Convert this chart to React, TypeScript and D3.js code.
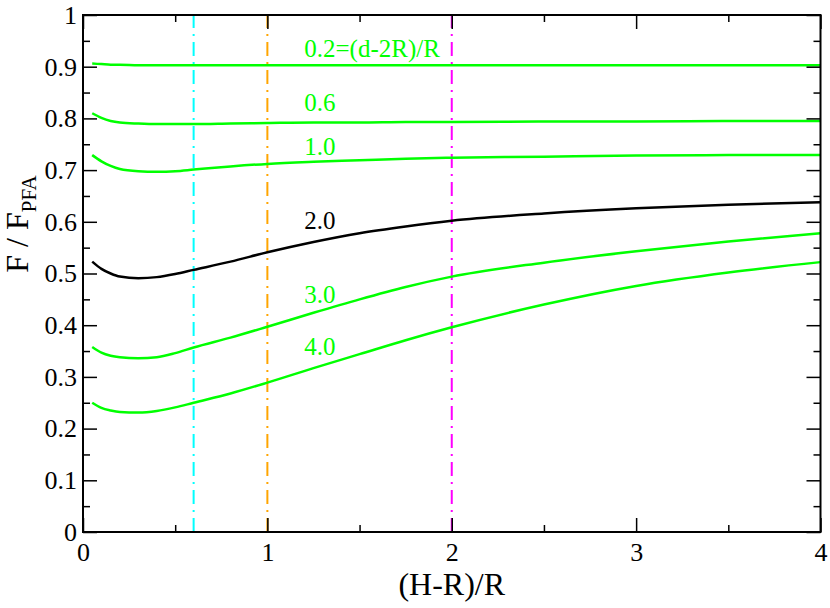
import React, { useEffect, useRef } from 'react';
import * as d3 from 'd3';

// x positions shared by every curve
const xValues = [0.05, 0.1, 0.15, 0.2, 0.3, 0.4, 0.5, 0.6, 0.8, 1.0, 1.25, 1.5, 1.75, 2.0, 2.5, 3.0, 3.5, 4.0];

const curve02 = [0.906, 0.905, 0.904, 0.904, 0.903, 0.903, 0.903, 0.903, 0.903, 0.903, 0.903, 0.903, 0.903, 0.903, 0.903, 0.903, 0.903, 0.903];
const curve06 = [0.810, 0.801, 0.795, 0.792, 0.790, 0.789, 0.789, 0.789, 0.790, 0.791, 0.792, 0.792, 0.793, 0.793, 0.794, 0.794, 0.795, 0.795];
const curve10 = [0.729, 0.717, 0.708, 0.702, 0.698, 0.697, 0.698, 0.701, 0.707, 0.712, 0.716, 0.719, 0.722, 0.724, 0.726, 0.728, 0.729, 0.729];
const curve20 = [0.523, 0.509, 0.500, 0.494, 0.491, 0.493, 0.499, 0.507, 0.523, 0.541, 0.561, 0.578, 0.591, 0.602, 0.616, 0.626, 0.633, 0.638];
const curve30 = [0.358, 0.347, 0.341, 0.338, 0.336, 0.338, 0.346, 0.357, 0.376, 0.397, 0.424, 0.450, 0.474, 0.494, 0.521, 0.543, 0.562, 0.578];
const curve40 = [0.250, 0.240, 0.235, 0.232, 0.231, 0.234, 0.241, 0.250, 0.268, 0.289, 0.317, 0.344, 0.371, 0.396, 0.440, 0.476, 0.502, 0.522];

const seriesValues = [curve02, curve06, curve10, curve20, curve30, curve40];
const seriesColors = ['#00ff00', '#00ff00', '#00ff00', '#000000', '#00ff00', '#00ff00'];

// curve labels, anchored in data coordinates (x, y of baseline start)
const labelTexts = ['0.2=(d-2R)/R', '0.6', '1.0', '2.0', '3.0', '4.0'];
const labelX = [1.2, 1.2, 1.2, 1.2, 1.2, 1.2];
const labelY = [0.919, 0.815, 0.729, 0.587, 0.443, 0.342];

// vertical reference lines
const refLineX = [0.6, 1.0, 2.0];
const refLineColors = ['#00ffff', '#ffa500', '#ff00ff'];

const xMajorTicks = [0, 1, 2, 3, 4];
const xMinorTicks = [0.5, 1.5, 2.5, 3.5];
const yMajorTicks = [0, 0.1, 0.2, 0.3, 0.4, 0.5, 0.6, 0.7, 0.8, 0.9, 1];
const yMinorTicks = [0.05, 0.15, 0.25, 0.35, 0.45, 0.55, 0.65, 0.75, 0.85, 0.95];

const FONT = "'Liberation Serif', 'Times New Roman', serif";

export default function App() {
  const svgRef = useRef<SVGSVGElement>(null);

  useEffect(() => {
    if (!svgRef.current) return;
    const width = 830;
    const height = 608;
    const left = 83, right = 820.5, top = 15, bottom = 532;

    const svg = d3.select(svgRef.current)
      .attr('width', width)
      .attr('height', height)
      .html('');

    svg.append('rect').attr('width', width).attr('height', height).attr('fill', '#fff');

    const x = d3.scaleLinear().domain([0, 4]).range([left, right]);
    const y = d3.scaleLinear().domain([0, 1]).range([bottom, top]);

    // reference lines (dash-dot)
    svg.selectAll('.ref')
      .data(refLineX)
      .enter()
      .append('line')
      .attr('x1', d => x(d))
      .attr('x2', d => x(d))
      .attr('y1', y(0))
      .attr('y2', y(1))
      .attr('stroke', (_, i) => refLineColors[i])
      .attr('stroke-width', 2)
      .attr('stroke-dasharray', '14,6,2,6');

    // curves
    const line = d3.line<number>()
      .x((_, i) => x(xValues[i]))
      .y(d => y(d))
      .curve(d3.curveMonotoneX);

    svg.selectAll('.curve')
      .data(seriesValues)
      .enter()
      .append('path')
      .attr('d', d => line(d))
      .attr('fill', 'none')
      .attr('stroke', (_, i) => seriesColors[i])
      .attr('stroke-width', 2.5);

    // curve labels
    svg.selectAll('.lbl')
      .data(labelTexts)
      .enter()
      .append('text')
      .attr('x', (_, i) => x(labelX[i]))
      .attr('y', (_, i) => y(labelY[i]))
      .attr('fill', (_, i) => seriesColors[i])
      .style('font-family', FONT)
      .attr('font-size', 25)
      .text(d => d);

    // axes with inward ticks
    const styleAxis = (g: d3.Selection<SVGGElement, unknown, null, undefined>) => {
      g.select('.domain').remove();
      g.selectAll('line').attr('stroke', '#000').attr('stroke-width', 1.5);
      g.selectAll('text').style('font-family', FONT).attr('font-size', 26).attr('fill', '#000');
    };

    svg.append('g')
      .attr('transform', `translate(0,${bottom})`)
      .call(d3.axisBottom(x).tickValues(xMajorTicks).tickSize(-14).tickPadding(11).tickFormat(d3.format('d')))
      .call(styleAxis);
    svg.append('g')
      .attr('transform', `translate(0,${bottom})`)
      .call(d3.axisBottom(x).tickValues(xMinorTicks).tickSize(-7).tickFormat(() => ''))
      .call(styleAxis);
    svg.append('g')
      .attr('transform', `translate(0,${top})`)
      .call(d3.axisTop(x).tickValues(xMajorTicks).tickSize(-14).tickFormat(() => ''))
      .call(styleAxis);
    svg.append('g')
      .attr('transform', `translate(0,${top})`)
      .call(d3.axisTop(x).tickValues(xMinorTicks).tickSize(-7).tickFormat(() => ''))
      .call(styleAxis);

    svg.append('g')
      .attr('transform', `translate(${left},0)`)
      .call(d3.axisLeft(y).tickValues(yMajorTicks).tickSize(-14).tickPadding(6).tickFormat(d => d3.format('')(+d)))
      .call(styleAxis);
    svg.append('g')
      .attr('transform', `translate(${left},0)`)
      .call(d3.axisLeft(y).tickValues(yMinorTicks).tickSize(-7).tickFormat(() => ''))
      .call(styleAxis);
    svg.append('g')
      .attr('transform', `translate(${right},0)`)
      .call(d3.axisRight(y).tickValues(yMajorTicks).tickSize(-14).tickFormat(() => ''))
      .call(styleAxis);
    svg.append('g')
      .attr('transform', `translate(${right},0)`)
      .call(d3.axisRight(y).tickValues(yMinorTicks).tickSize(-7).tickFormat(() => ''))
      .call(styleAxis);

    // frame
    svg.append('rect')
      .attr('x', left)
      .attr('y', top)
      .attr('width', right - left)
      .attr('height', bottom - top)
      .attr('fill', 'none')
      .attr('stroke', '#000')
      .attr('stroke-width', 2);

    // axis titles
    svg.append('text')
      .attr('x', (left + right) / 2)
      .attr('y', 595)
      .attr('text-anchor', 'middle')
      .style('font-family', FONT)
      .attr('font-size', 32)
      .text('(H-R)/R');

    const yTitle = svg.append('text')
      .attr('transform', 'translate(28,224) rotate(-90)')
      .attr('text-anchor', 'middle')
      .style('font-family', FONT)
      .attr('font-size', 32);
    yTitle.append('tspan').text('F / F');
    yTitle.append('tspan').attr('dy', 8).attr('font-size', 21).text('PFA');
  }, []);

  return (
    <div style={{ position: 'absolute', left: 0, top: 0 }}>
      <svg ref={svgRef} style={{ display: 'block' }} />
    </div>
  );
}
